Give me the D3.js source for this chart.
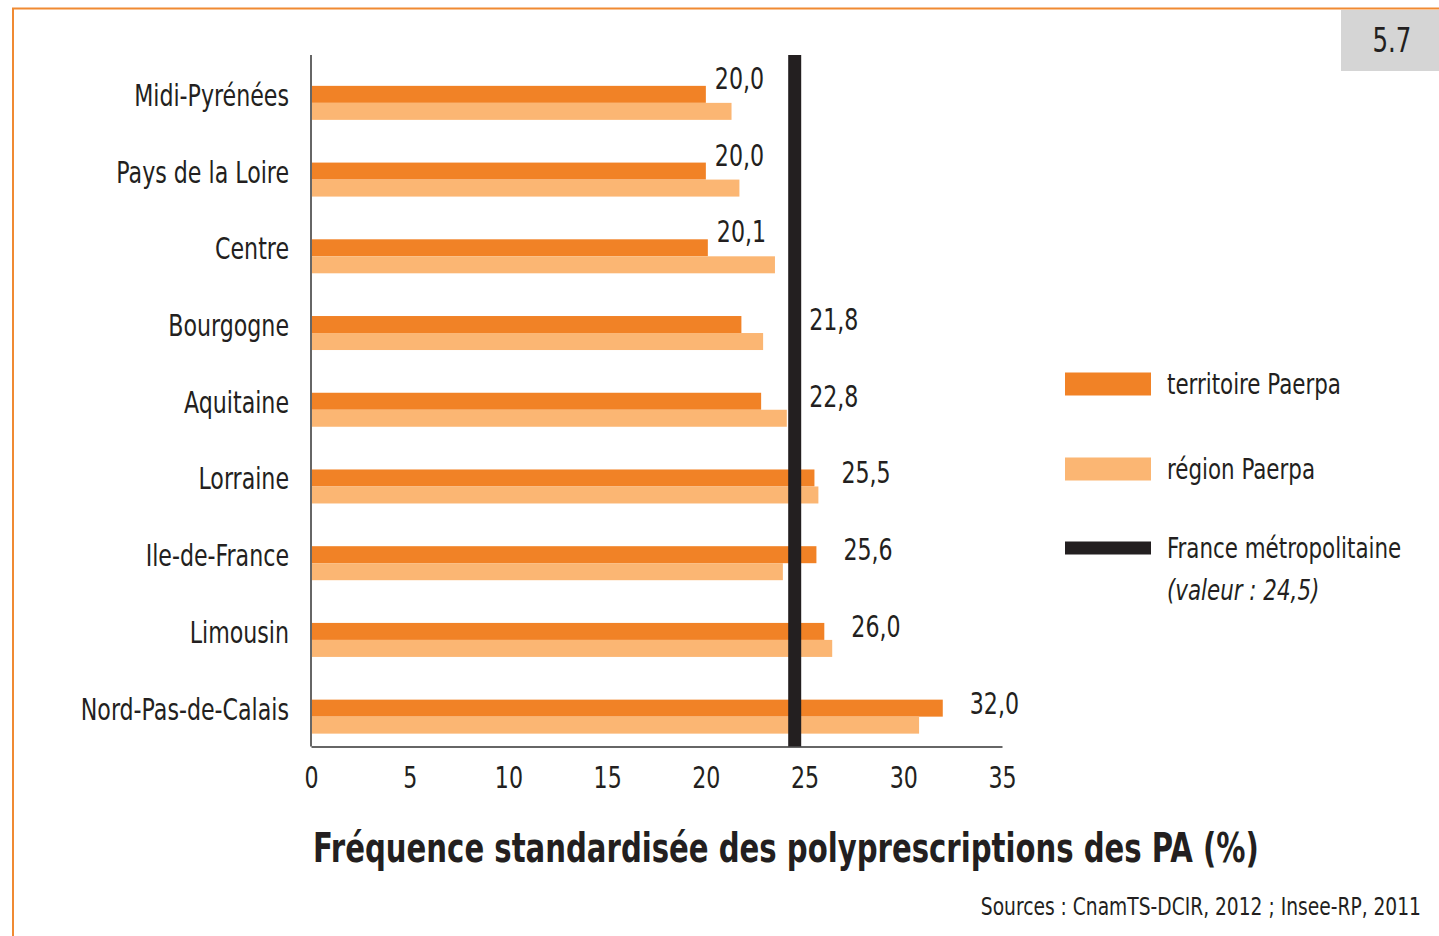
<!DOCTYPE html>
<html>
<head>
<meta charset="utf-8">
<script src="https://cdn.jsdelivr.net/npm/d3@7"></script>
<style>
  body { margin: 0; background: #fff; }
  svg { display: block; }
  text { font-family: "DejaVu Sans Condensed", "Liberation Sans Narrow", sans-serif; fill: #231f20; }
</style>
</head>
<body>
<svg id="chart"></svg>
<script>
// data
const regions = ['Midi-Pyrénées', 'Pays de la Loire', 'Centre', 'Bourgogne', 'Aquitaine',
                 'Lorraine', 'Ile-de-France', 'Limousin', 'Nord-Pas-de-Calais'];
const territoire = [20.0, 20.0, 20.1, 21.8, 22.8, 25.5, 25.6, 26.0, 32.0];
const regionVals = [21.3, 21.7, 23.5, 22.9, 24.1, 25.7, 23.9, 26.4, 30.8];
const franceVal = 24.5;
const xTicks = [0, 5, 10, 15, 20, 25, 30, 35];
const legendItems = ['territoire Paerpa', 'région Paerpa', 'France métropolitaine'];

const W = 1439, H = 936;
const darkOrange = '#f18226', lightOrange = '#fbb673', ink = '#231f20';

// the original font is a condensed one: squeeze text horizontally
function squeeze(sel, f) {
    sel.each(function() {
        const w = this.getComputedTextLength();
        d3.select(this).attr('textLength', w * f).attr('lengthAdjust', 'spacingAndGlyphs');
    });
}

const svg = d3.select('#chart').attr('width', W).attr('height', H);

// frame + figure number
svg.append('path')
    .attr('d', `M13,${H} L13,8.5 L${W},8.5`)
    .attr('fill', 'none').attr('stroke', '#f08a32').attr('stroke-width', 2);
svg.append('rect').attr('x', 1341).attr('y', 10).attr('width', 98).attr('height', 61).attr('fill', '#d5d5d5');
let fig = svg.append('text').attr('x', 1392).attr('y', 52).attr('text-anchor', 'middle')
    .style('font-size', '34px').text('5.7');
squeeze(fig, 0.8);

let x = d3.scaleLinear().domain([0, 35]).range([311, 1002]);
let y = d3.scaleBand().domain(regions).range([64.5, 755]);
const barH = 17;
const mid = d => y(d) + y.bandwidth() / 2;

let fmt = d3.formatLocale({decimal: ',', thousands: ' ', grouping: [3], currency: ['', '€']}).format('.1f');

let graph = svg.append('g');

// bars
graph.selectAll('rect.terr').data(regions).enter().append('rect')
    .attr('class', 'terr')
    .attr('x', x(0)).attr('y', d => mid(d) - barH)
    .attr('width', (d, i) => x(territoire[i]) - x(0)).attr('height', barH)
    .attr('fill', darkOrange);
graph.selectAll('rect.reg').data(regions).enter().append('rect')
    .attr('class', 'reg')
    .attr('x', x(0)).attr('y', d => mid(d))
    .attr('width', (d, i) => x(regionVals[i]) - x(0)).attr('height', barH)
    .attr('fill', lightOrange);

// axes
const axisY = y.range()[1] - 8.5;
let gX = graph.append('g').attr('transform', `translate(0,${axisY})`);
gX.call(d3.axisBottom(x).tickValues(xTicks).tickSize(0).tickPadding(0));
gX.select('.domain').attr('stroke', '#666').attr('stroke-width', 2);
gX.selectAll('text').attr('y', 0).attr('dy', 41).attr('fill', ink).style('font-size', '30px');
squeeze(gX.selectAll('text'), 0.82);

let gY = graph.append('g').attr('transform', `translate(${x(0)},0)`);
gY.call(d3.axisLeft(y).tickSize(0).tickPadding(22));
gY.select('.domain').attr('d', `M0,55V${axisY}`).attr('stroke', '#666').attr('stroke-width', 2);
gY.selectAll('text').attr('dy', 3).attr('fill', ink).style('font-size', '30px');
squeeze(gY.selectAll('text'), 0.82);

// France métropolitaine line
const lineX = x(franceVal), lineW = 13;
graph.append('rect').attr('x', lineX - lineW / 2).attr('y', 55)
    .attr('width', lineW).attr('height', axisY - 55).attr('fill', ink);

// value labels: above the bar when there is room before the line, else beside it
const fitsBefore = v => v < franceVal && x(v) + 9 + 50 < lineX - lineW / 2;
let vals = graph.selectAll('text.val').data(regions).enter().append('text')
    .attr('class', 'val')
    .style('font-size', '30px')
    .attr('x', (d, i) => {
        const v = territoire[i];
        if (v > franceVal) return x(v) + 27;
        return fitsBefore(v) ? x(v) + 9 : lineX + lineW / 2 + 8;
    })
    .attr('y', (d, i) => fitsBefore(territoire[i]) ? mid(d) - barH + 3 : mid(d) - 3)
    .text((d, i) => fmt(territoire[i]));
squeeze(vals, 0.82);

// legend
let legend = svg.append('g');
const legY = [384, 469, 548];
legendItems.forEach((t, i) => {
    const h = i === 2 ? 13 : 23;
    legend.append('rect').attr('x', 1065).attr('y', legY[i] - h / 2)
        .attr('width', 86).attr('height', h)
        .attr('fill', [darkOrange, lightOrange, ink][i]);
    legend.append('text').attr('x', 1167).attr('y', legY[i] + 10)
        .style('font-size', '29px').text(t);
});
legend.append('text').attr('x', 1167).attr('y', 600)
    .style('font-size', '29px').style('font-style', 'italic')
    .text('(valeur : ' + fmt(franceVal) + ')');
squeeze(legend.selectAll('text'), 0.82);

// title + source
let title = svg.append('text').attr('x', 313).attr('y', 862)
    .style('font-size', '41px').style('font-weight', 'bold')
    .text('Fréquence standardisée des polyprescriptions des PA (%)');
squeeze(title, 0.79);
let src = svg.append('text').attr('x', 1421).attr('y', 915).attr('text-anchor', 'end')
    .style('font-size', '25px')
    .text('Sources : CnamTS-DCIR, 2012 ; Insee-RP, 2011');
squeeze(src, 0.83);
</script>
</body>
</html>
